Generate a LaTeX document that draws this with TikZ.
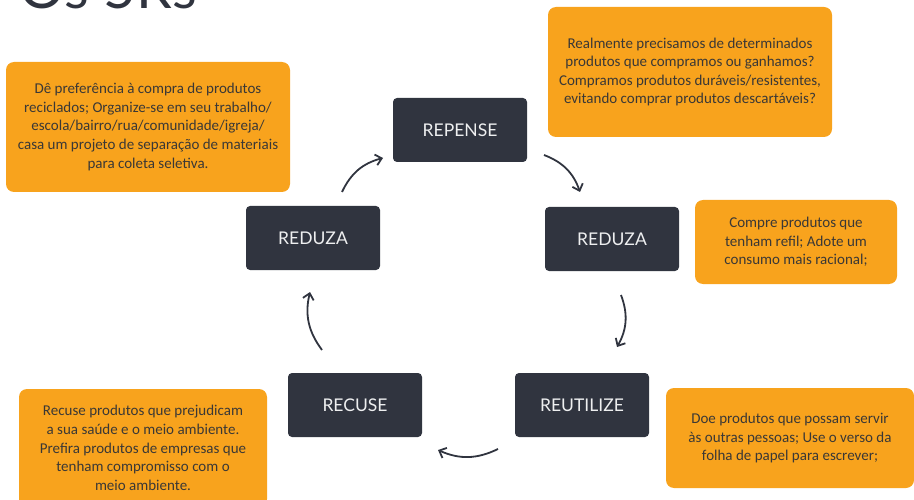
\documentclass[tikz,border=0pt]{standalone}
\usepackage{fontspec}
\usepackage{xcolor}
\usetikzlibrary{arrows.meta}
\setmainfont{Carlito}
\newfontfamily\stepfont{Lato}
\definecolor{slate}{HTML}{30343F}
\definecolor{amber}{HTML}{F8A31D}
\definecolor{ink}{HTML}{3A3836}

\begin{document}
\begin{tikzpicture}
  [x=1pt,y=-1pt,
   rbox/.style={rectangle,rounded corners=4pt,fill=slate,text=white!92!slate,
     minimum width=134pt,minimum height=64pt,font=\stepfont\fontsize{17.5}{20}\selectfont},
   tipbox/.style={rectangle,rounded corners=8pt,fill=amber,text=ink,align=center,
     font=\fontsize{15}{18.6}\selectfont},
   flow/.style={draw=slate,line width=1.8pt,-{Straight Barb[length=6pt,width=11pt]}}]
  \useasboundingbox (0,0) rectangle (914,500);
  \clip (0,0) rectangle (914,500);
  \node[text=slate,anchor=base west,inner sep=0pt,font=\stepfont\fontsize{57}{60}\selectfont] (title) at (19,9) {Os 5Rs};

  % the five steps
  \node[rbox] (repense) at (460,130) {REPENSE};
  \node[rbox] (reduzaR) at (612,239) {REDUZA};
  \node[rbox] (reutilize) at (582,405) {REUTILIZE};
  \node[rbox] (recuse) at (355,405) {RECUSE};
  \node[rbox] (reduzaL) at (313,238) {REDUZA};

  % hints
  \node[tipbox,minimum width=284pt,minimum height=130pt] (tipA) at (148,127)
    {Dê preferência à compra de produtos\\reciclados; Organize-se em seu trabalho/\\escola/bairro/rua/comunidade/igreja/\\casa um projeto de separação de materiais\\para coleta seletiva.};
  \node[tipbox,minimum width=284pt,minimum height=130pt] (tipB) at (690,72)
    {Realmente precisamos de determinados\\produtos que compramos ou ganhamos?\\Compramos produtos duráveis/resistentes,\\evitando comprar produtos descartáveis?};
  \node[tipbox,minimum width=202pt,minimum height=84pt] (tipC) at (796,242)
    {Compre produtos que\\tenham refil; Adote um\\consumo mais racional;};
  \node[tipbox,minimum width=248pt,minimum height=118pt] (tipD) at (143,448)
    {Recuse produtos que prejudicam\\a sua saúde e o meio ambiente.\\Prefira produtos de empresas que\\tenham compromisso com o\\meio ambiente.};
  \node[tipbox,minimum width=248pt,minimum height=100pt] (tipE) at (790,438)
    {Doe produtos que possam servir\\às outras pessoas; Use o verso da\\folha de papel para escrever;};

  \coordinate (a1) at (342,192); \coordinate (a2) at (383,158);
  \coordinate (b1) at (544,155); \coordinate (b2) at (580,192);
  \coordinate (c1) at (621,295); \coordinate (c2) at (617,347);
  \coordinate (d1) at (498,449); \coordinate (d2) at (438,450);
  \coordinate (e1) at (322,350); \coordinate (e2) at (310,292);

  \foreach \from/\to/\bend in {a1/a2/left, b1/b2/left, c1/c2/left, d1/d2/left, e1/e2/left}
    \draw[flow] (\from) to[bend \bend=25] (\to);
\end{tikzpicture}
\end{document}
